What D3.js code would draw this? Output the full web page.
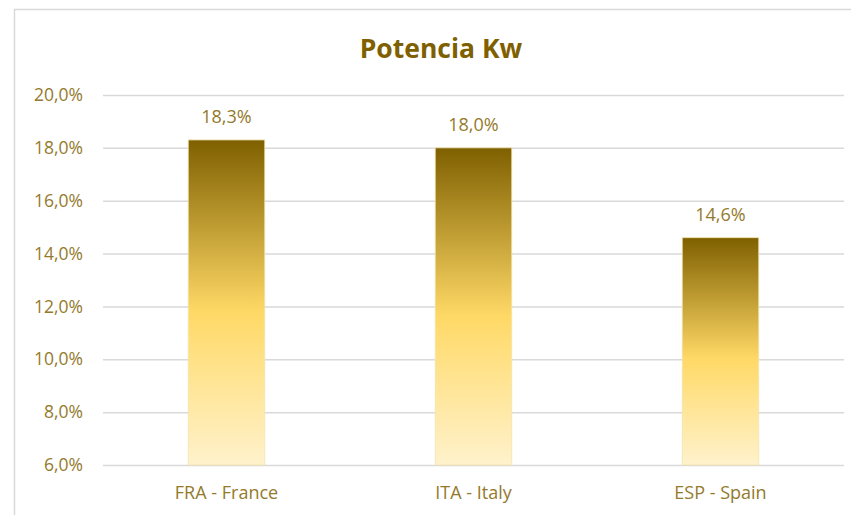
<!DOCTYPE html>
<html>
<head>
<meta charset="utf-8">
<script src="https://cdn.jsdelivr.net/npm/d3@7"></script>
<style>
	body { margin: 0; background: #fff; }
	svg { display: block; font-family: "Open Sans", sans-serif; }
</style>
</head>
<body>
<div id="chart"></div>
<script>

var categories = ["FRA - France", "ITA - Italy", "ESP - Spain"],
	values = [18.3, 18.0, 14.6],
	yTicks = [6, 8, 10, 12, 14, 16, 18, 20],
	title = "Potencia Kw";

var width = 851,
	height = 515,
	margin = {top: 95, right: 7, bottom: 50, left: 103};

var svg = d3.select("#chart").append("svg")
	.attr("width", width)
	.attr("height", height);

// chart area frame (Excel style)
svg.append("rect")
	.attr("x", 14.5)
	.attr("y", 9.5)
	.attr("width", width)
	.attr("height", height)
	.attr("fill", "none")
	.attr("stroke", "#d9d9d9")
	.attr("stroke-width", 1.5);

var defs = svg.append("defs");
var grad = defs.append("linearGradient")
	.attr("id", "barGrad")
	.attr("x1", 0).attr("y1", 0)
	.attr("x2", 0).attr("y2", 1);
grad.append("stop").attr("offset", "0%").attr("stop-color", "#7f6000");
grad.append("stop").attr("offset", "53%").attr("stop-color", "#ffd966");
grad.append("stop").attr("offset", "100%").attr("stop-color", "#fff2cc");

var x = d3.scaleBand()
	.domain(categories)
	.range([margin.left, width - margin.right])
	.paddingInner(0.69)
	.paddingOuter(0.345);

var y = d3.scaleLinear()
	.domain([6, 20])
	.range([height - margin.bottom, margin.top]);

var fmt = function(d) { return d3.format(".1f")(d).replace(".", ",") + "%"; };

// gridlines
svg.append("g")
	.attr("class", "grid")
	.attr("transform", "translate(" + margin.left + ",0)")
	.call(d3.axisLeft(y).tickValues(yTicks).tickSize(-(width - margin.right - margin.left)).tickFormat(""))
	.call(function(g) {
		g.select(".domain").remove();
		g.selectAll("line").attr("stroke", "#d9d9d9").attr("stroke-width", 1.5);
	});

// y labels
svg.append("g")
	.attr("transform", "translate(" + (margin.left - 20) + ",0)")
	.call(d3.axisLeft(y).tickValues(yTicks).tickSize(0).tickPadding(0).tickFormat(fmt))
	.call(function(g) {
		g.select(".domain").remove();
		g.selectAll("text")
			.attr("fill", "#947a2c")
			.attr("font-size", "17.5px")
			.attr("font-family", "Open Sans, sans-serif");
	});

// bars
svg.append("g").selectAll("rect")
	.data(values)
	.enter().append("rect")
	.attr("x", function(d, i) { return x(categories[i]); })
	.attr("y", function(d) { return y(d); })
	.attr("width", x.bandwidth())
	.attr("height", function(d) { return y(6) - y(d); })
	.attr("fill", "url(#barGrad)")
	.attr("stroke", "#f3e3b0")
	.attr("stroke-width", 0.8);

// value labels
svg.append("g").selectAll("text")
	.data(values)
	.enter().append("text")
	.attr("x", function(d, i) { return x(categories[i]) + x.bandwidth() / 2; })
	.attr("y", function(d) { return y(d) - 17; })
	.attr("text-anchor", "middle")
	.attr("fill", "#947a2c")
	.attr("font-size", "18px")
	.text(fmt);

// x labels
svg.append("g")
	.attr("transform", "translate(0," + (height - margin.bottom) + ")")
	.call(d3.axisBottom(x).tickSize(0).tickPadding(0))
	.call(function(g) {
		g.select(".domain").remove();
		g.selectAll("text")
			.attr("dy", 0)
			.attr("y", 34)
			.attr("fill", "#947a2c")
			.attr("font-size", "18px")
			.attr("font-family", "Open Sans, sans-serif");
	});

// title
svg.append("text")
	.attr("x", 441)
	.attr("y", 58)
	.attr("text-anchor", "middle")
	.attr("fill", "#7f6000")
	.attr("font-size", "26.5px")
	.attr("font-weight", "bold")
	.text(title);

</script>
</body>
</html>
